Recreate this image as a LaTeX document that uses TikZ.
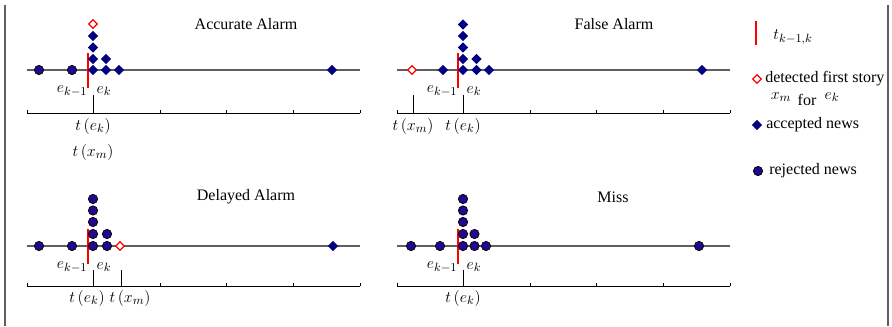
\documentclass[tikz,border=0pt]{standalone}
\usepackage{fontspec}
\setmainfont{Liberation Serif}
\usetikzlibrary{shapes.geometric}
\definecolor{accblue}{RGB}{0,0,128}
\definecolor{rejblue}{RGB}{36,8,140}
\definecolor{linegray}{RGB}{95,95,95}
\tikzset{
    acc/.style={diamond,fill=accblue,inner sep=0pt,minimum size=8pt},
    rej/.style={circle,fill=rejblue,draw=black,line width=0.5pt,inner sep=0pt,minimum size=7pt},
    det/.style={diamond,draw=red,fill=white,line width=0.9pt,inner sep=0pt,minimum size=6.8pt},
    base/.style={draw=linegray,line width=0.8pt},
    timeaxis/.style={draw=black,line width=0.5pt},
    tkline/.style={draw=red,line width=1.1pt},
    frame/.style={draw=linegray,line width=1.1pt},
    title/.style={inner sep=0pt},
    mlbl/.style={font=\fontsize{13}{15}\selectfont}
}

\begin{document}
\begin{tikzpicture}[x=0.75pt,y=-0.75pt,font=\fontsize{12}{14}\selectfont]
    \useasboundingbox (0,0) rectangle (892,326);

    % Frame
    \draw[frame] (5,5) -- (5,326);
    \draw[frame] (888,5) -- (888,326);

    % News lines, time axes and t_{k-1,k}
    \foreach \dx/\by/\ay in {0/70/113, 370/70/113, 0/246/286, 370/246/286} {
        \draw[base] (27+\dx,\by) -- (360+\dx,\by);
        \draw[timeaxis] (27+\dx,\ay) -- (360+\dx,\ay);
        \foreach \i in {0,...,5}
            \draw[timeaxis] (27+66.6*\i+\dx,\ay) -- ++(0,-3);
        \draw[tkline] (88+\dx,\by-17) -- (88+\dx,\by+18);
        \node[mlbl] (ekm\dx\by) at (72+\dx,\by+21) {$e_{k-1}$};
        \node[mlbl] (ek\dx\by) at (104+\dx,\by+21) {$e_k$};
    }

    % Accurate Alarm
    \node[title] (accurate) at (246,24) {Accurate Alarm};
    \foreach \x [count=\n] in {39,72}
        \node[rej] (a-r\n) at (\x,70) {};
    \foreach \x/\y [count=\n] in {93/70,93/59,93/47.5,93/36,106/70,106/59,119/70,332/70}
        \node[acc] (a-a\n) at (\x,\y) {};
    \node[det] (a-d) at (93,24) {};
    \draw[timeaxis] (93,95) -- (93,113);
    \node[mlbl] (a-te) at (93,126) {$t\,(e_k)$};
    \node[mlbl] (a-tx) at (93,152) {$t\,(x_m)$};

    % False Alarm
    \begin{scope}[shift={(370,0)}]
    \node[title] (false) at (244,24) {False Alarm};
    \node[det] (f-d) at (42,70) {};
    \foreach \x/\y [count=\n] in {73/70,93/70,93/59,93/47.5,93/36,93/24.5,106.5/70,106.5/59,119/70,332/70}
        \node[acc] (f-a\n) at (\x,\y) {};
    \draw[timeaxis] (43,95) -- (43,113);
    \draw[timeaxis] (93,95) -- (93,113);
    \node[mlbl] (f-tx) at (43,126) {$t\,(x_m)$};
    \node[mlbl] (f-te) at (93,126) {$t\,(e_k)$};
    \end{scope}

    % Delayed Alarm
    \node[title] (delayed) at (246,197) {Delayed Alarm};
    \foreach \x/\y [count=\n] in {39/246,72/246,93/246,93/234,93/222,93/210.5,93/199,107/246,107/234}
        \node[rej] (d-r\n) at (\x,\y) {};
    \node[det] (d-d) at (120,246) {};
    \node[acc] (d-a1) at (333,246) {};
    \draw[timeaxis] (93,270) -- (93,286);
    \draw[timeaxis] (121,270) -- (121,286);
    \node[mlbl] (d-te) at (87,298) {$t\,(e_k)$};
    \node[mlbl] (d-tx) at (130,298) {$t\,(x_m)$};

    % Miss
    \begin{scope}[shift={(370,0)}]
    \node[title] (miss) at (243,197) {Miss};
    \foreach \x/\y [count=\n] in {41/246,70/246,93/246,93/234,93/222,93/210.5,93/199,104.5/246,104.5/234,116/246,329/246}
        \node[rej] (m-r\n) at (\x,\y) {};
    \draw[timeaxis] (93,270) -- (93,286);
    \node[mlbl] (m-te) at (93,298) {$t\,(e_k)$};
    \end{scope}

    % Legend
    \draw[tkline] (756,21) -- (756,45);
    \node[mlbl] (leg-t) at (793,37) {$t_{k-1,k}$};
    \node[det] (leg-d) at (757,79) {};
    \node[anchor=west,inner sep=0pt] (leg-dt) at (765,79) {detected first story};
    \node[mlbl] (leg-x) at (781,97) {$x_m$};
    \node (leg-for) at (807,100) {for};
    \node[mlbl] (leg-e) at (832,97) {$e_k$};
    \node[acc] (leg-a) at (757,125) {};
    \node[anchor=west,inner sep=0pt] (leg-at) at (766,125) {accepted news};
    \node[rej] (leg-r) at (758,171) {};
    \node[anchor=west,inner sep=0pt] (leg-rt) at (769,171) {rejected news};
\end{tikzpicture}
\end{document}
